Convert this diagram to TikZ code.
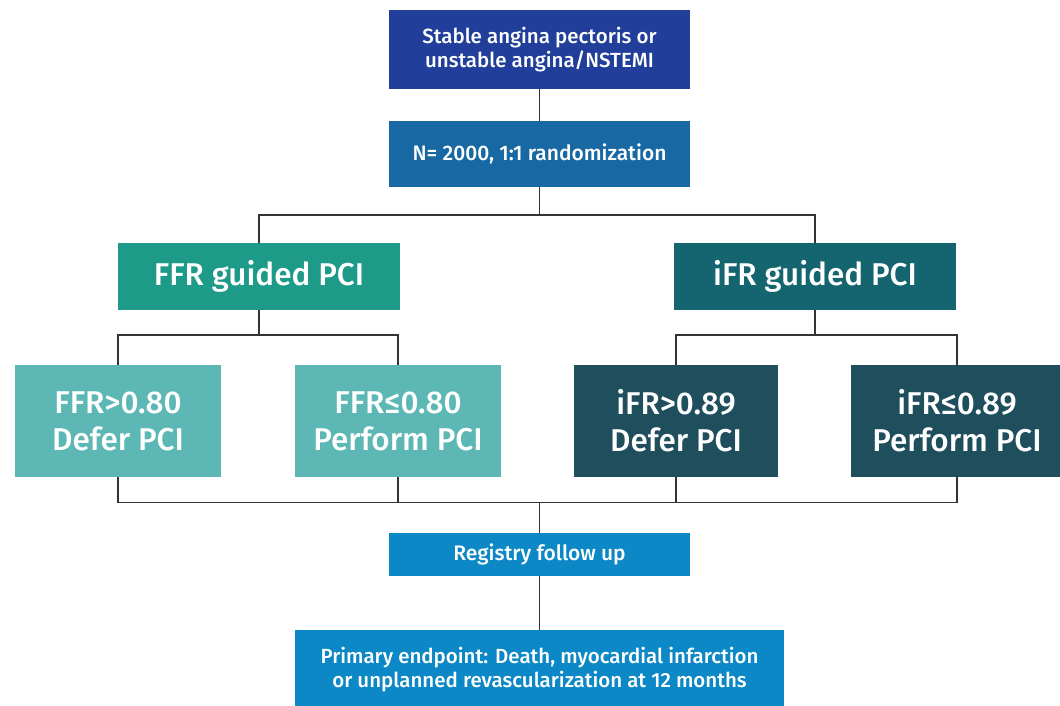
\documentclass[tikz,border=0pt]{standalone}
\usepackage{fontspec}
\setmainfont{Fira Sans}[UprightFont={* Medium}]
\definecolor{cA}{HTML}{203E9A}
\definecolor{cB}{HTML}{1868A3}
\definecolor{cF}{HTML}{1E9A89}
\definecolor{cI}{HTML}{14656F}
\definecolor{cFl}{HTML}{5DB8B5}
\definecolor{cId}{HTML}{1F4E5D}
\definecolor{cR}{HTML}{0B88C5}
\definecolor{ln}{HTML}{333333}
\tikzset{
  box/.style={rectangle, inner sep=0pt, text=white, align=center},
  conn/.style={draw=ln, line width=1.4pt},
  big/.style={font=\fontsize{31.5}{37}\selectfont},
}
\begin{document}
\begin{tikzpicture}[x=1pt,y=-1pt]
\useasboundingbox (0,0) rectangle (1060,705);
\node[box, fill=cA, minimum width=301pt, minimum height=79pt, font=\fontsize{20.5}{24}\selectfont] (b1) at (539.5,49.5) {Stable angina pectoris or\\unstable angina/NSTEMI};
\node[box, fill=cB, minimum width=301pt, minimum height=66pt, font=\fontsize{21}{24}\selectfont] (b2) at (539.5,154) {N= 2000, 1:1 randomization};
\node[box, fill=cF, minimum width=282pt, minimum height=67pt, font=\fontsize{31.5}{36}\selectfont] (ffrg) at (259,276.5) {FFR guided PCI};
\node[box, fill=cI, minimum width=282pt, minimum height=67pt, font=\fontsize{31.5}{36}\selectfont] (ifrg) at (815,276.5) {iFR guided PCI};
\node[box, big, fill=cFl, minimum width=206pt, minimum height=112pt] (d1) at (118,421) {FFR>0.80\\Defer PCI};
\node[box, big, fill=cFl, minimum width=206pt, minimum height=112pt] (d2) at (398,421) {FFR≤0.80\\Perform PCI};
\node[box, big, fill=cId, minimum width=204pt, minimum height=112pt] (d3) at (676,421) {iFR>0.89\\Defer PCI};
\node[box, big, fill=cId, minimum width=212pt, minimum height=112pt] (d4) at (957,421) {iFR≤0.89\\Perform PCI};
\node[box, fill=cR, minimum width=301pt, minimum height=43pt, font=\fontsize{21}{24}\selectfont] (reg) at (539.5,554.5) {Registry follow up};
\node[box, fill=cR, minimum width=489pt, minimum height=80pt, font=\fontsize{20.5}{24}\selectfont] (prim) at (539.5,670) {Primary endpoint: Death, myocardial infarction\\or unplanned revascularization at 12 months};
\draw[conn] (b1.south) -- (b2.north);
\draw[conn] (b2.south) -- ++(0,28);
\draw[conn] (ffrg.north) -- ++(0,-28) -| (ifrg.north);
\draw[conn] (ffrg.south) -- ++(0,25);
\draw[conn] (d1.north) -- ++(0,-30) -| (d2.north);
\draw[conn] (ifrg.south) -- ++(0,25);
\draw[conn] (d3.north) -- ++(0,-30) -| (d4.north);
\draw[conn] (d1.south) -- ++(0,25) -| (d4.south);
\draw[conn] (d2.south) -- ++(0,25);
\draw[conn] (d3.south) -- ++(0,25);
\draw[conn] (reg.north) -- ++(0,-31);
\draw[conn] (reg.south) -- (prim.north);
\end{tikzpicture}
\end{document}
